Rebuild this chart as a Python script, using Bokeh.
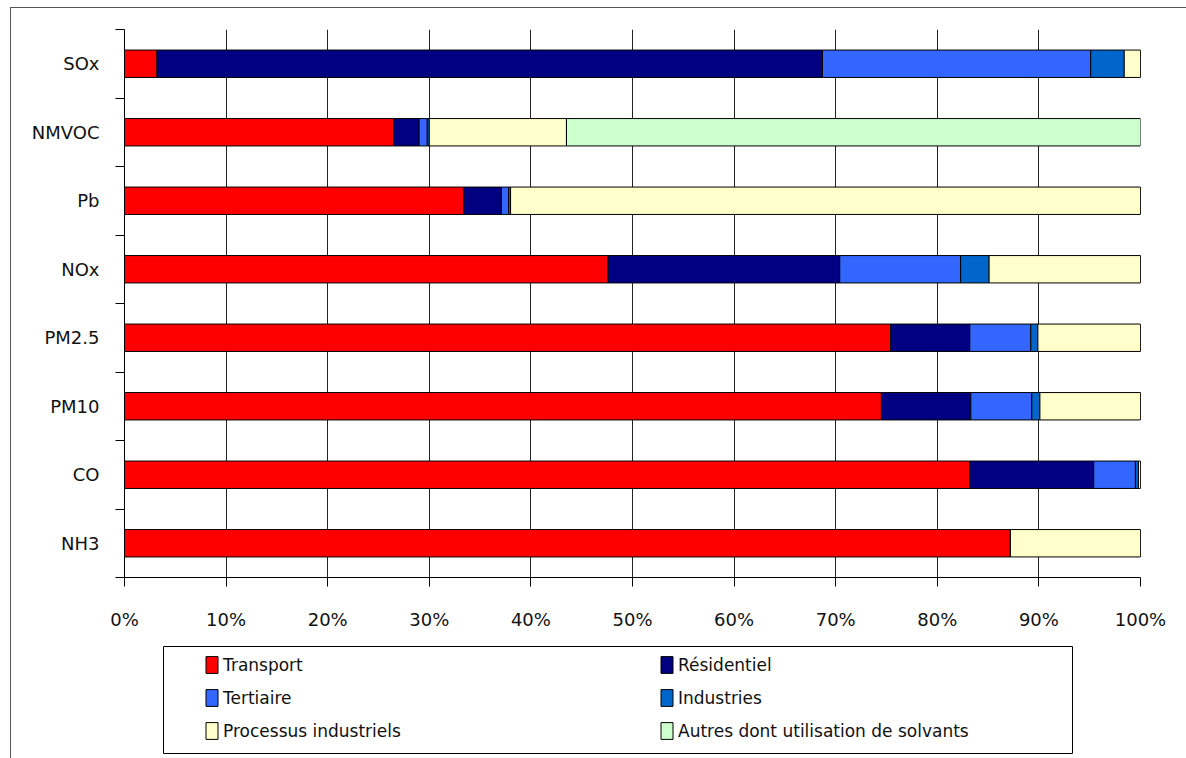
from bokeh.plotting import figure
from bokeh.layouts import column
from bokeh.models import (ColumnDataSource, Range1d, FixedTicker, PrintfTickFormatter,
                          LinearAxis, Legend, LegendItem, Grid, BoxAnnotation)
from bokeh.embed import file_html
from bokeh.resources import INLINE

# ---- data (top to bottom) ----
categories = ["SOx", "NMVOC", "Pb", "NOx", "PM2.5", "PM10", "CO", "NH3"]
transport   = [3.2, 26.5, 33.4, 47.6, 75.4, 74.5, 83.2, 87.2]
residentiel = [65.5, 2.5, 3.7, 22.8, 7.8, 8.8, 12.2, 0.0]
tertiaire   = [26.4, 0.8, 0.7, 11.9, 6.0, 6.0, 4.1, 0.0]
industries  = [3.3, 0.2, 0.2, 2.8, 0.7, 0.8, 0.3, 0.0]
processus   = [1.6, 13.5, 62.0, 14.9, 10.1, 9.9, 0.2, 12.8]
autres      = [0.0, 56.5, 0.0, 0.0, 0.0, 0.0, 0.0, 0.0]

series_keys = ["transport", "residentiel", "tertiaire", "industries", "processus", "autres"]
series_labels = ["Transport", "Résidentiel", "Tertiaire", "Industries",
                 "Processus industriels", "Autres dont utilisation de solvants"]
colors = ["#FF0000", "#000080", "#3366FF", "#0066CC", "#FFFFCC", "#CCFFCC"]
x_ticks = [0, 10, 20, 30, 40, 50, 60, 70, 80, 90, 100]

n = len(categories)
ypos = [n - 0.5 - i for i in range(n)]
source = ColumnDataSource(dict(y=ypos, transport=transport, residentiel=residentiel,
                               tertiaire=tertiaire, industries=industries,
                               processus=processus, autres=autres))

FONT = "DejaVu Sans"
FRAME_W = 1016

# ---------------- main chart ----------------
p = figure(width=1176, height=633, output_backend="svg", toolbar_location=None,
           x_range=Range1d(0, 100), y_range=Range1d(0, n),
           min_border_left=113, min_border_right=1176 - 113 - FRAME_W, min_border_top=21,
           min_border_bottom=64, x_axis_location=None, y_axis_location=None)
p.outline_line_color = None
p.background_fill_color = "white"
p.border_fill_color = "white"
p.grid.visible = False

renderers = p.hbar_stack(series_keys, y="y", height=0.4, color=colors,
                         line_color="black", line_width=1, source=source)
for r, c in zip(renderers, colors):
    r.glyph.fill_color = c
    r.glyph.line_color = "black"

xaxis = LinearAxis(ticker=FixedTicker(ticks=x_ticks),
                   formatter=PrintfTickFormatter(format="%d%%"))
xaxis.axis_line_color = "black"
xaxis.major_tick_line_color = "black"
xaxis.major_tick_in = 0
xaxis.major_tick_out = 9
xaxis.minor_tick_line_color = None
xaxis.major_label_standoff = 22
xaxis.major_label_text_font = FONT
xaxis.major_label_text_font_size = "18px"
xaxis.major_label_text_color = "#111111"
p.add_layout(xaxis, "below")

yaxis = LinearAxis(ticker=FixedTicker(ticks=ypos, minor_ticks=list(range(n + 1))))
yaxis.major_label_overrides = {y: c for y, c in zip(ypos, categories)}
yaxis.axis_line_color = "black"
yaxis.major_tick_line_color = None
yaxis.major_tick_in = 0
yaxis.major_tick_out = 0
yaxis.minor_tick_line_color = "black"
yaxis.minor_tick_in = 0
yaxis.minor_tick_out = 9
yaxis.major_label_standoff = 16
yaxis.major_label_text_font = FONT
yaxis.major_label_text_font_size = "18px"
yaxis.major_label_text_color = "#111111"
p.add_layout(yaxis, "left")

grid = Grid(dimension=0, ticker=FixedTicker(ticks=x_ticks),
            grid_line_color="#222222", grid_line_width=1)
p.add_layout(grid)

# ---------------- legend panel (pixel-scaled ranges) ----------------
LEG_H = 118
pl = figure(width=1176, height=LEG_H, output_backend="svg", toolbar_location=None,
            x_range=Range1d(0, FRAME_W), y_range=Range1d(0, LEG_H),
            min_border_left=113, min_border_right=1176 - 113 - FRAME_W, min_border_top=0,
            min_border_bottom=0, x_axis_location=None, y_axis_location=None)
pl.grid.visible = False
pl.outline_line_color = None
pl.background_fill_color = "white"
pl.border_fill_color = "white"
pl.extra_y_ranges = {"off": Range1d(1000, 1001)}

# legend box
pl.add_layout(BoxAnnotation(left=39, right=948, bottom=6, top=113,
                            fill_alpha=0, line_color="black", line_width=1,
                            line_alpha=1.0))

# proxy renderers (same data, drawn off-range) so the legend gets real swatches
leg_renderers = pl.hbar_stack(series_keys, y="y", height=0.4, color=colors,
                              line_color="black", source=source, y_range_name="off")
legend = Legend(items=[LegendItem(label=l, renderers=[r]) for l, r in zip(series_labels, leg_renderers)],
                location=(80, 18), orientation="horizontal", ncols=2,
                label_text_font=FONT, label_text_font_size="17px", label_text_color="#111111",
                glyph_width=15, glyph_height=21, label_standoff=4, label_width=424,
                label_height=17, spacing=12, padding=0, margin=0,
                border_line_color=None, background_fill_alpha=0.0)
pl.add_layout(legend, "center")

layout = column(p, pl, spacing=0, margin=(7, 0, 0, 10),
                styles={"border-left": "1px solid #555555", "border-top": "1px solid #555555"})

open("out.html", "w").write(file_html(layout, INLINE))
